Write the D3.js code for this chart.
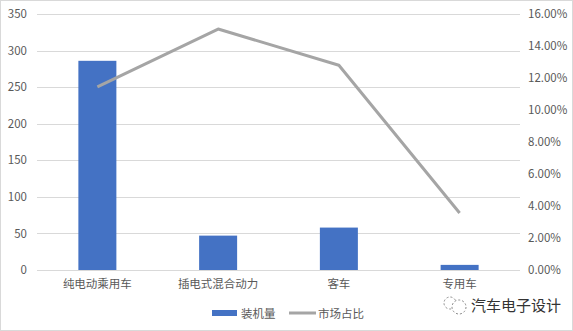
<!DOCTYPE html>
<html>
<head>
<meta charset="utf-8">
<script src="https://cdn.jsdelivr.net/npm/d3@7"></script>
<style>
  body { margin: 0; background: #fff; }
  text { font-family: "Noto Sans CJK SC", "Noto Sans", sans-serif; }
</style>
</head>
<body>
<script>
var categories = ["纯电动乘用车", "插电式混合动力", "客车", "专用车"];
var installed = [286, 47, 58, 7];
var share = [0.1144, 0.1506, 0.128, 0.0356];
var leftTicks = [0, 50, 100, 150, 200, 250, 300, 350];
var rightTicks = [0, 0.02, 0.04, 0.06, 0.08, 0.10, 0.12, 0.14, 0.16];

var W = 573, H = 331;
var margin = {top: 14, right: 53, bottom: 61, left: 37};
var width = W - margin.left - margin.right;
var height = H - margin.top - margin.bottom;

var svg = d3.select("body").append("svg")
  .attr("width", W)
  .attr("height", H);

svg.append("rect")
  .attr("x", 0.5).attr("y", 0.5)
  .attr("width", W - 1).attr("height", H - 1)
  .attr("fill", "#fff")
  .attr("stroke", "#d9d9d9");

var g = svg.append("g")
  .attr("transform", "translate(" + margin.left + "," + margin.top + ")");

var x = d3.scaleBand().domain(categories).range([0, width]).paddingInner(0).paddingOuter(0);
var yL = d3.scaleLinear().domain([0, 350]).range([height, 0]);
var yR = d3.scaleLinear().domain([0, 0.16]).range([height, 0]);

// gridlines
g.selectAll(".grid").data(leftTicks).enter().append("line")
  .attr("x1", 0).attr("x2", width)
  .attr("y1", function(d) { return Math.round(yL(d)) + 0.5; })
  .attr("y2", function(d) { return Math.round(yL(d)) + 0.5; })
  .attr("stroke", "#d9d9d9");

var yAxisL = d3.axisLeft(yL).tickValues(leftTicks).tickSize(0).tickPadding(10);
var yAxisR = d3.axisRight(yR).tickValues(rightTicks).tickSize(0).tickPadding(8)
  .tickFormat(function(d) { return (d * 100).toFixed(2) + "%"; });
var xAxis = d3.axisBottom(x).tickSize(0).tickPadding(10);

function styleAxis(sel) {
  sel.select(".domain").remove();
  sel.selectAll("text").attr("fill", "#595959").style("font-size", "11.5px");
}

g.append("g").call(yAxisL).call(styleAxis);
g.append("g").attr("transform", "translate(" + width + ",0)").call(yAxisR).call(styleAxis);
g.append("g").attr("transform", "translate(0," + height + ")").call(xAxis).call(styleAxis);

// bars
var barW = 38;
g.selectAll(".bar").data(installed).enter().append("rect")
  .attr("class", "bar")
  .attr("x", function(d, i) { return x(categories[i]) + x.bandwidth() / 2 - barW / 2; })
  .attr("width", barW)
  .attr("y", function(d) { return yL(d); })
  .attr("height", function(d) { return height - yL(d); })
  .attr("fill", "#4472c4");

// line
var line = d3.line()
  .x(function(d, i) { return x(categories[i]) + x.bandwidth() / 2; })
  .y(function(d) { return yR(d); });

g.append("path")
  .datum(share)
  .attr("d", line)
  .attr("fill", "none")
  .attr("stroke", "#a5a5a5")
  .attr("stroke-width", 3)
  .attr("stroke-linejoin", "round");

// legend
var lg = svg.append("g").attr("transform", "translate(212,313)");
lg.append("rect").attr("x", 0).attr("y", -3).attr("width", 25).attr("height", 6).attr("fill", "#4472c4");
lg.append("text").attr("x", 29).attr("y", 4.5).attr("fill", "#595959").style("font-size", "11.5px").text("装机量");
lg.append("line").attr("x1", 77).attr("x2", 104).attr("y1", 0).attr("y2", 0)
  .attr("stroke", "#a5a5a5").attr("stroke-width", 3);
lg.append("text").attr("x", 106).attr("y", 4.5).attr("fill", "#595959").style("font-size", "11.5px").text("市场占比");

// watermark
var wm = svg.append("g").attr("transform", "translate(454,305)");
wm.append("circle").attr("cx", -4).attr("cy", -2).attr("r", 6)
  .attr("fill", "none").attr("stroke", "#888").attr("stroke-width", 1).attr("stroke-dasharray", "2,2");
wm.append("circle").attr("cx", 5).attr("cy", 2).attr("r", 7)
  .attr("fill", "#fff").attr("stroke", "#888").attr("stroke-width", 1).attr("stroke-dasharray", "2,2");
wm.append("text").attr("x", 17).attr("y", 5.5).attr("fill", "#333")
  .style("font-size", "15px").text("汽车电子设计");
</script>
</body>
</html>
